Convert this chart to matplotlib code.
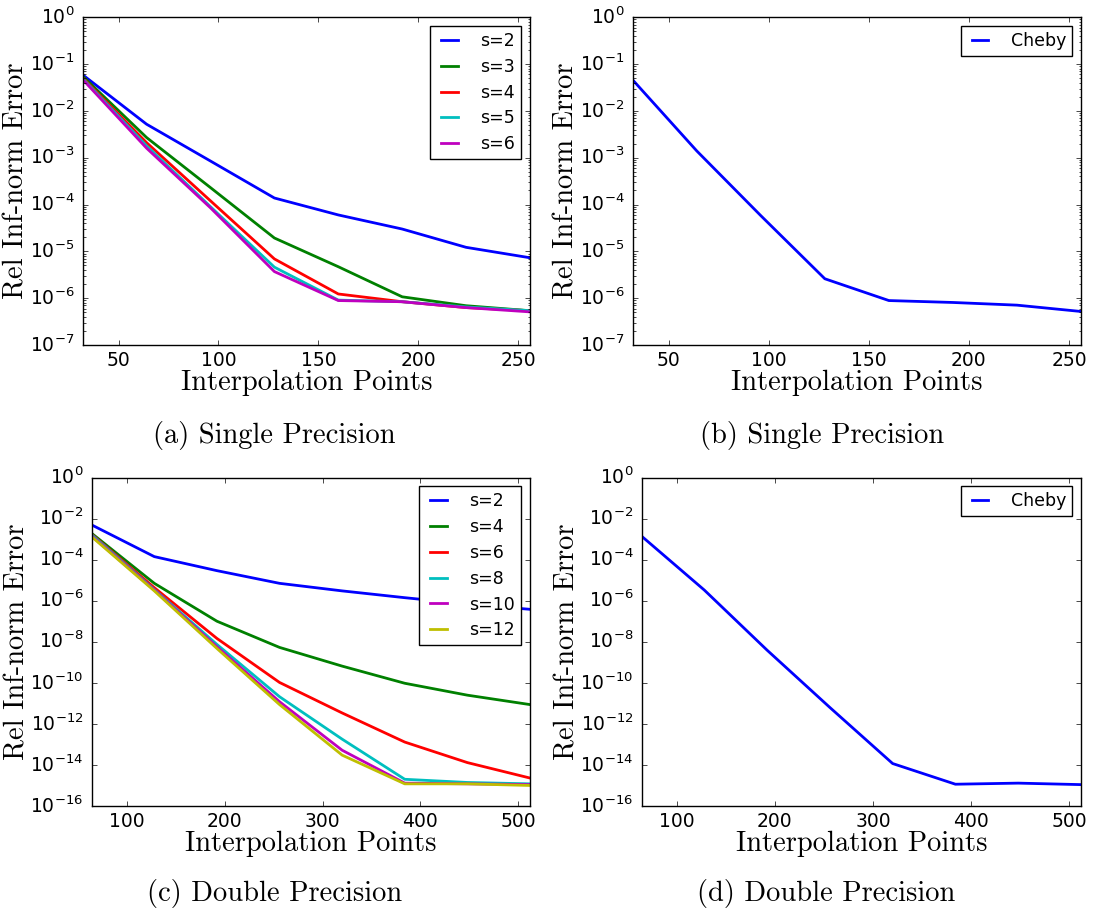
import numpy as np
import matplotlib
matplotlib.use("Agg")
import matplotlib.pyplot as plt
import matplotlib.ticker as mticker

plt.style.use("classic")
plt.rcParams["figure.facecolor"] = "white"
plt.rcParams["savefig.facecolor"] = "white"
plt.rcParams["font.family"] = "DejaVu Sans"
plt.rcParams["mathtext.fontset"] = "dejavusans"

# ---- single precision data ----
pts_single = [32, 64, 96, 128, 160, 192, 224, 256]
single_labels = ["s=2", "s=3", "s=4", "s=5", "s=6"]
single_s2 = [5.9e-2, 5.2e-3, 8.5e-4, 1.38e-4, 6.0e-5, 3.0e-5, 1.22e-5, 7.3e-6]
single_s3 = [5.5e-2, 2.7e-3, 2.3e-4, 1.93e-5, 4.7e-6, 1.07e-6, 6.9e-7, 5.4e-7]
single_s4 = [5.1e-2, 2.1e-3, 1.2e-4, 6.9e-6, 1.23e-6, 8.4e-7, 6.3e-7, 5.4e-7]
single_s5 = [4.9e-2, 1.8e-3, 9.0e-5, 4.6e-6, 9.1e-7, 8.4e-7, 6.5e-7, 5.4e-7]
single_s6 = [4.7e-2, 1.6e-3, 8.5e-5, 3.7e-6, 8.9e-7, 8.4e-7, 6.3e-7, 5.1e-7]
cheby_single = [4.6e-2, 1.4e-3, 5.8e-5, 2.6e-6, 8.9e-7, 8.1e-7, 7.1e-7, 5.2e-7]

# ---- double precision data ----
pts_double = [64, 128, 192, 256, 320, 384, 448, 512]
double_labels = ["s=2", "s=4", "s=6", "s=8", "s=10", "s=12"]
double_s2 = [4.9e-3, 1.4e-4, 2.9e-5, 7.0e-6, 3.0e-6, 1.4e-6, 6.9e-7, 3.8e-7]
double_s4 = [1.9e-3, 7.0e-6, 1.0e-7, 5.3e-9, 6.5e-10, 9.5e-11, 2.5e-11, 8.7e-12]
double_s6 = [1.7e-3, 4.3e-6, 1.45e-8, 1.04e-10, 3.4e-12, 1.3e-13, 1.3e-14, 2.3e-15]
double_s8 = [1.6e-3, 3.5e-6, 7.4e-9, 2.1e-11, 1.8e-13, 2.0e-15, 1.4e-15, 1.2e-15]
double_s10 = [1.4e-3, 3.3e-6, 5.7e-9, 1.2e-11, 5.2e-14, 1.3e-15, 1.2e-15, 1.1e-15]
double_s12 = [1.3e-3, 3.0e-6, 4.7e-9, 8.7e-12, 3.0e-14, 1.2e-15, 1.2e-15, 1.0e-15]
cheby_double = [1.4e-3, 3.3e-6, 3.9e-9, 6.3e-12, 1.17e-14, 1.15e-15, 1.3e-15, 1.1e-15]

colors = ["b", "g", "r", "c", "m", "y"]
serif = "cmr10"

fig = plt.figure(figsize=(10.94, 9.17), dpi=100)
W, H = 1094.0, 917.0


def make_axes(left, right, top, bottom):
    return fig.add_axes([left / W, 1 - bottom / H, (right - left) / W, (bottom - top) / H])


def style_axes(ax, xlim, ylim, xticks, yticks, minor):
    ax.set_yscale("log")
    ax.set_xlim(*xlim)
    ax.set_ylim(*ylim)
    ax.set_xticks(xticks)
    ax.yaxis.set_major_locator(mticker.FixedLocator(yticks))
    ax.yaxis.set_major_formatter(mticker.LogFormatterSciNotation())
    if minor:
        ax.yaxis.set_minor_locator(mticker.LogLocator(subs=np.arange(2, 10)))
    else:
        ax.yaxis.set_minor_locator(mticker.NullLocator())
    ax.yaxis.set_minor_formatter(mticker.NullFormatter())
    ax.tick_params(axis="both", which="major", labelsize=13.5, length=3.5)
    ax.tick_params(axis="y", which="major", pad=6)
    ax.tick_params(axis="both", which="minor", length=1.8)
    ax.set_xlabel("Interpolation Points", family=serif, fontsize=20.5, labelpad=0)
    ax.set_ylabel("Rel Inf-norm Error", family=serif, fontsize=20.5, labelpad=0)


def add_legend(ax):
    ax.legend(loc="upper right", fontsize=12.5, frameon=True, fancybox=False,
              handlelength=1.55, handletextpad=1.0, labelspacing=0.45,
              borderpad=0.35, borderaxespad=0.5)


# (a)
ax_a = make_axes(82.7, 530, 17.3, 345)
for vals, lab, c in zip([single_s2, single_s3, single_s4, single_s5, single_s6], single_labels, colors):
    ax_a.plot(pts_single, vals, color=c, lw=2, label=lab)
style_axes(ax_a, (32, 256), (1e-7, 1), [50, 100, 150, 200, 250],
           [10.0 ** k for k in range(-7, 1)], True)
add_legend(ax_a)

# (b)
ax_b = make_axes(632.7, 1081, 17.3, 345)
ax_b.plot(pts_single, cheby_single, color="b", lw=2, label="Cheby")
style_axes(ax_b, (32, 256), (1e-7, 1), [50, 100, 150, 200, 250],
           [10.0 ** k for k in range(-7, 1)], True)
add_legend(ax_b)

# (c)
ax_c = make_axes(91.7, 530, 477.5, 806)
for vals, lab, c in zip([double_s2, double_s4, double_s6, double_s8, double_s10, double_s12],
                        double_labels, colors):
    ax_c.plot(pts_double, vals, color=c, lw=2, label=lab)
style_axes(ax_c, (64, 512), (1e-16, 1), [100, 200, 300, 400, 500],
           [10.0 ** k for k in range(-16, 1, 2)], False)
add_legend(ax_c)

# (d)
ax_d = make_axes(641.5, 1081, 477.5, 806)
ax_d.plot(pts_double, cheby_double, color="b", lw=2, label="Cheby")
style_axes(ax_d, (64, 512), (1e-16, 1), [100, 200, 300, 400, 500],
           [10.0 ** k for k in range(-16, 1, 2)], False)
add_legend(ax_d)

# captions
fig.text(274 / W, 1 - 436 / H, "(a) Single Precision", family=serif, fontsize=20.5, ha="center", va="center")
fig.text(822 / W, 1 - 436 / H, "(b) Single Precision", family=serif, fontsize=20.5, ha="center", va="center")
fig.text(275 / W, 1 - 893 / H, "(c) Double Precision", family=serif, fontsize=20.5, ha="center", va="center")
fig.text(826 / W, 1 - 893 / H, "(d) Double Precision", family=serif, fontsize=20.5, ha="center", va="center")

fig.savefig("out.png", dpi=100)
